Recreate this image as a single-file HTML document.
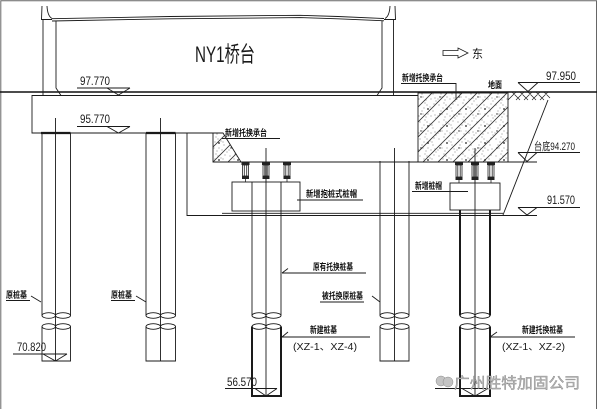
<!DOCTYPE html>
<html><head><meta charset="utf-8"><style>
html,body{margin:0;padding:0;background:#fff;}
svg{display:block;}
text{font-family:"Liberation Sans","Noto Sans CJK SC",sans-serif;}
</style></head><body>
<svg width="600" height="409" viewBox="0 0 600 409" xmlns="http://www.w3.org/2000/svg">
<defs>
<pattern id="hl" patternUnits="userSpaceOnUse" width="15" height="15">
<path d="M0,15 L15,0 M-2,2 L2,-2 M13,17 L17,13" stroke="#333" stroke-width="0.8"/>
</pattern>
<pattern id="dt" patternUnits="userSpaceOnUse" width="19" height="17">
<g fill="#666">
<circle cx="2" cy="3" r="0.5"/><circle cx="7" cy="1" r="0.5"/><circle cx="12" cy="5" r="0.5"/>
<circle cx="16" cy="2" r="0.5"/><circle cx="4" cy="9" r="0.5"/><circle cx="10" cy="12" r="0.5"/>
<circle cx="15" cy="9" r="0.5"/><circle cx="1" cy="14" r="0.5"/><circle cx="8" cy="15" r="0.5"/>
<circle cx="13" cy="14" r="0.5"/><circle cx="17" cy="13" r="0.5"/><circle cx="6" cy="6" r="0.5"/>
<circle cx="9" cy="3" r="0.5"/><circle cx="14" cy="6" r="0.5"/><circle cx="18" cy="16" r="0.5"/>
<circle cx="5" cy="12" r="0.5"/>
</g>
<circle cx="10" cy="7" r="0.9" fill="#222"/><circle cx="3" cy="12" r="0.7" fill="#222"/>
</pattern>
</defs>

<g fill="none" stroke="#1a1a1a" stroke-width="0.9">
<!-- frame -->
<path d="M0.8,409 V0.8 H596.5 V409" stroke="#666" stroke-width="1"/>

<!-- ground line -->
<path d="M0,92 H597" stroke="#111" stroke-width="1.6"/>

<!-- deck / abutment -->
<path d="M43,19.5 V95.5"/>
<path d="M56,21 V88 L61,95.5"/>
<path d="M42,6 L41.5,19.5 H52"/>
<path d="M47,6 Q47.5,16 52,18.5"/>
<path d="M52,18.7 L170,16.5 L300,15.3 L338,16.5 L384,18.5"/>
<path d="M52,21 L170,18.8 L300,17.6 L338,18.8 L384,20.8"/>
<path d="M393.5,19.5 V95.5"/>
<path d="M382,21 V88 L377,95.5"/>
<path d="M395,6 L395.5,19.5 H384"/>
<path d="M390,6 Q389.5,16 385,18.5"/>

<!-- cap -->
<path d="M418,95.5 H32 V133 H213"/>
<path d="M41,133 H70.5 M146,133 H175.5" stroke-width="2.2"/>

<!-- excavation outline -->
<path d="M187,133 V215.5 H537"/>
<path d="M222,213.3 H503"/>

<!-- new cap bottom -->
<path d="M213,162 H537"/>

<!-- slope -->
<path d="M548,100 L503,215"/>

<!-- earth symbol -->
<path d="M508,100 L516,92 M512,92 L520,100 M516,100 L524,92 M520,92 L528,100 M524,100 L532,92 M528,92 L536,100 M532,100 L540,92 M536,92 L544,100 M540,100 L548,92 M544,92 L550,98" stroke-width="0.7"/>

<!-- level markers -->
<path d="M77,88 H130 M107,88 L118.5,95 L130,88"/>
<path d="M77,126.5 H130 M107,126.5 L118.5,133 L130,126.5"/>
<path d="M518,82.5 H580 M518,82.5 L528,91.5 L538,82.5"/>
<path d="M518,152.5 H580 M518,152.5 L527,161.5 L537,152.5"/>
<path d="M518,207.5 H580 M518,207.5 L527,215 L537,207.5"/>
<path d="M13,354 H67 M43,354 L55.5,361 L67,354"/>
<path d="M225,388.5 H277 M255,388.5 L266,396 L277,388.5"/>
<path d="M435,388.5 H488 M462,388.5 L475,396 L488,388.5"/>

<!-- pile 1 -->
<path d="M42,133 V315.5 M70.5,133 V315.5 M55.5,118 V361 M42,326.5 V361 H70.5 V326.5"/>
<ellipse cx="48.75" cy="315.5" rx="6.75" ry="2.8"/><ellipse cx="63" cy="315.5" rx="7.5" ry="2.8"/>
<ellipse cx="48.75" cy="326.5" rx="6.75" ry="2.8"/><ellipse cx="63" cy="326.5" rx="7.5" ry="2.8"/>
<!-- pile 2 -->
<path d="M146,133 V315.5 M175.5,133 V315.5 M160.5,118 V361 M146,326.5 V361 H175.5 V326.5"/>
<ellipse cx="153.25" cy="315.5" rx="7.25" ry="2.8"/><ellipse cx="168" cy="315.5" rx="7.5" ry="2.8"/>
<ellipse cx="153.25" cy="326.5" rx="7.25" ry="2.8"/><ellipse cx="168" cy="326.5" rx="7.5" ry="2.8"/>
<!-- pile 3 -->
<path d="M252,182 V315.5 M281,182 V315.5 M266,148 V396"/>
<path d="M252,326.5 V396 H281 V326.5" stroke-width="2"/>
<ellipse cx="259" cy="315.5" rx="7" ry="2.8"/><ellipse cx="273.5" cy="315.5" rx="7.5" ry="2.8"/>
<ellipse cx="259" cy="326.5" rx="7" ry="2.8"/><ellipse cx="273.5" cy="326.5" rx="7.5" ry="2.8"/>
<!-- pile 4 -->
<path d="M380,161 V315.5 M409,161 V315.5 M394.5,148 V361 M380,326.5 V361 H409 V326.5"/>
<ellipse cx="387.25" cy="315.5" rx="7.25" ry="2.8"/><ellipse cx="401.75" cy="315.5" rx="7.25" ry="2.8"/>
<ellipse cx="387.25" cy="326.5" rx="7.25" ry="2.8"/><ellipse cx="401.75" cy="326.5" rx="7.25" ry="2.8"/>
<!-- pile 5 -->
<path d="M460,210 V315.5 M490,210 V315.5" stroke-width="2"/>
<path d="M475,148 V396"/>
<path d="M460,326.5 V396 H490 V326.5" stroke-width="2"/>
<ellipse cx="467.5" cy="315.5" rx="7.5" ry="2.8"/><ellipse cx="482.5" cy="315.5" rx="7.5" ry="2.8"/>
<ellipse cx="467.5" cy="326.5" rx="7.5" ry="2.8"/><ellipse cx="482.5" cy="326.5" rx="7.5" ry="2.8"/>

<!-- pile caps -->
<rect x="232" y="182" width="68" height="29" fill="#fff"/>
<path d="M252,182 V211 M266,182 V211 M281,182 V211"/>
<rect x="450" y="183" width="50" height="27" fill="#fff"/>
<path d="M475,183 V210"/>

<!-- leaders -->
<path d="M401,83.5 H456 V100"/>
<path d="M222,138.5 H280"/>
<path d="M297,200 H363"/>
<path d="M412,191.5 H468"/>
<path d="M6,300.5 H30 M31,296 L41,302"/>
<path d="M111,300.5 H135 M136,296 L146,302"/>
<path d="M282,273 H366 M282,273 L288,268.5"/>
<path d="M320,302 H364 M372,296 L380,302"/>
<path d="M282,337 H370 M282,337 L288,332"/>
<path d="M490,337 H575 M490,337 L497,332"/>

<!-- arrow -->
<path d="M443,50.5 H458 V48 L468,53 L458,58 V55.5 H443 Z" stroke-width="0.8"/>
</g>

<!-- hatched block -->
<rect x="418" y="93" width="90" height="69" fill="url(#hl)"/>
<rect x="418" y="93" width="90" height="69" fill="url(#dt)" stroke="#1a1a1a" stroke-width="0.9"/>
<!-- hatched triangle -->
<path d="M213,133 V162 H241 L223,133 Z" fill="url(#hl)"/>
<path d="M213,133 V162 H241 L223,133 Z" fill="url(#dt)" stroke="#1a1a1a" stroke-width="0.9"/>

<!-- jacks -->
<g fill="#222">
<rect x="241.5" y="162" width="8" height="3"/><rect x="242" y="176" width="7" height="3"/>
<rect x="262" y="162" width="8" height="3"/><rect x="262.5" y="176" width="7" height="3"/>
<rect x="283" y="162" width="8" height="3"/><rect x="283.5" y="176" width="7" height="3"/>
<rect x="455" y="162" width="8" height="3"/><rect x="455.5" y="177" width="7" height="3"/>
<rect x="471" y="162" width="8" height="3"/><rect x="471.5" y="177" width="7" height="3"/>
<rect x="487" y="162" width="8" height="3"/><rect x="487.5" y="177" width="7" height="3"/>
</g>
<g fill="none" stroke="#222" stroke-width="0.8">
<rect x="242.5" y="165" width="6" height="11"/><path d="M244.3,165 V176 M246.7,165 V176 M245.5,179 V182"/>
<rect x="263" y="165" width="6" height="11"/><path d="M264.8,165 V176 M267.2,165 V176 M266,179 V182"/>
<rect x="284" y="165" width="6" height="11"/><path d="M285.8,165 V176 M288.2,165 V176 M287,179 V182"/>
<rect x="456" y="165" width="6" height="12"/><path d="M457.8,165 V177 M460.2,165 V177 M459,180 V183"/>
<rect x="472" y="165" width="6" height="12"/><path d="M473.8,165 V177 M476.2,165 V177 M475,180 V183"/>
<rect x="488" y="165" width="6" height="12"/><path d="M489.8,165 V177 M492.2,165 V177 M491,180 V183"/>
</g>

<!-- texts -->
<g fill="#1a1a1a">
<text x="195" y="62" font-size="22" textLength="60" lengthAdjust="spacingAndGlyphs">NY1桥台</text>
<text x="472" y="58" font-size="12" textLength="11" lengthAdjust="spacingAndGlyphs">东</text>

<text x="80" y="85" font-size="12" textLength="30" lengthAdjust="spacingAndGlyphs">97.770</text>
<text x="80" y="123" font-size="12" textLength="30" lengthAdjust="spacingAndGlyphs">95.770</text>
<text x="546" y="80" font-size="12" textLength="30" lengthAdjust="spacingAndGlyphs">97.950</text>
<text x="534" y="150" font-size="11" textLength="41" lengthAdjust="spacingAndGlyphs">台底94.270</text>
<text x="547" y="204" font-size="12" textLength="28" lengthAdjust="spacingAndGlyphs">91.570</text>
<text x="17" y="351" font-size="12" textLength="29" lengthAdjust="spacingAndGlyphs">70.820</text>
<text x="227" y="386" font-size="12" textLength="30" lengthAdjust="spacingAndGlyphs">56.570</text>
</g>
<g fill="#111" font-weight="bold">
<text x="402" y="81" font-size="9" textLength="41" lengthAdjust="spacingAndGlyphs">新增托换承台</text>
<text x="488" y="88" font-size="9" textLength="14" lengthAdjust="spacingAndGlyphs">地面</text>
<text x="225" y="136" font-size="9" textLength="42" lengthAdjust="spacingAndGlyphs">新增托换承台</text>
<text x="306" y="197" font-size="9" textLength="51" lengthAdjust="spacingAndGlyphs">新增抱桩式桩帽</text>
<text x="415" y="189" font-size="9" textLength="27" lengthAdjust="spacingAndGlyphs">新增桩帽</text>
<text x="6" y="298" font-size="9" textLength="21" lengthAdjust="spacingAndGlyphs">原桩基</text>
<text x="111" y="298" font-size="9" textLength="21" lengthAdjust="spacingAndGlyphs">原桩基</text>
<text x="313" y="270" font-size="9" textLength="40" lengthAdjust="spacingAndGlyphs">原有托换桩基</text>
<text x="322" y="299" font-size="9" textLength="41" lengthAdjust="spacingAndGlyphs">被托换原桩基</text>
<text x="310" y="333" font-size="9" textLength="27" lengthAdjust="spacingAndGlyphs">新建桩基</text>
<text x="522" y="333" font-size="9" textLength="41" lengthAdjust="spacingAndGlyphs">新建托换桩基</text>
</g>
<g fill="#1a1a1a">
<text x="293" y="350" font-size="10" textLength="64" lengthAdjust="spacingAndGlyphs">(XZ-1、XZ-4)</text>
<text x="502" y="350" font-size="10" textLength="63" lengthAdjust="spacingAndGlyphs">(XZ-1、XZ-2)</text>
</g>

<!-- watermark -->
<g fill="#c4c4c4" stroke="#8a8a8a" stroke-width="0.5">
<circle cx="441" cy="381" r="5"/>
<circle cx="448" cy="382" r="5"/>
</g>
<text x="454" y="388" font-size="15" textLength="126" lengthAdjust="spacingAndGlyphs" fill="#b8b8b8" stroke="#7a7a7a" stroke-width="0.35">广州胜特加固公司</text>
</svg>
</body></html>
